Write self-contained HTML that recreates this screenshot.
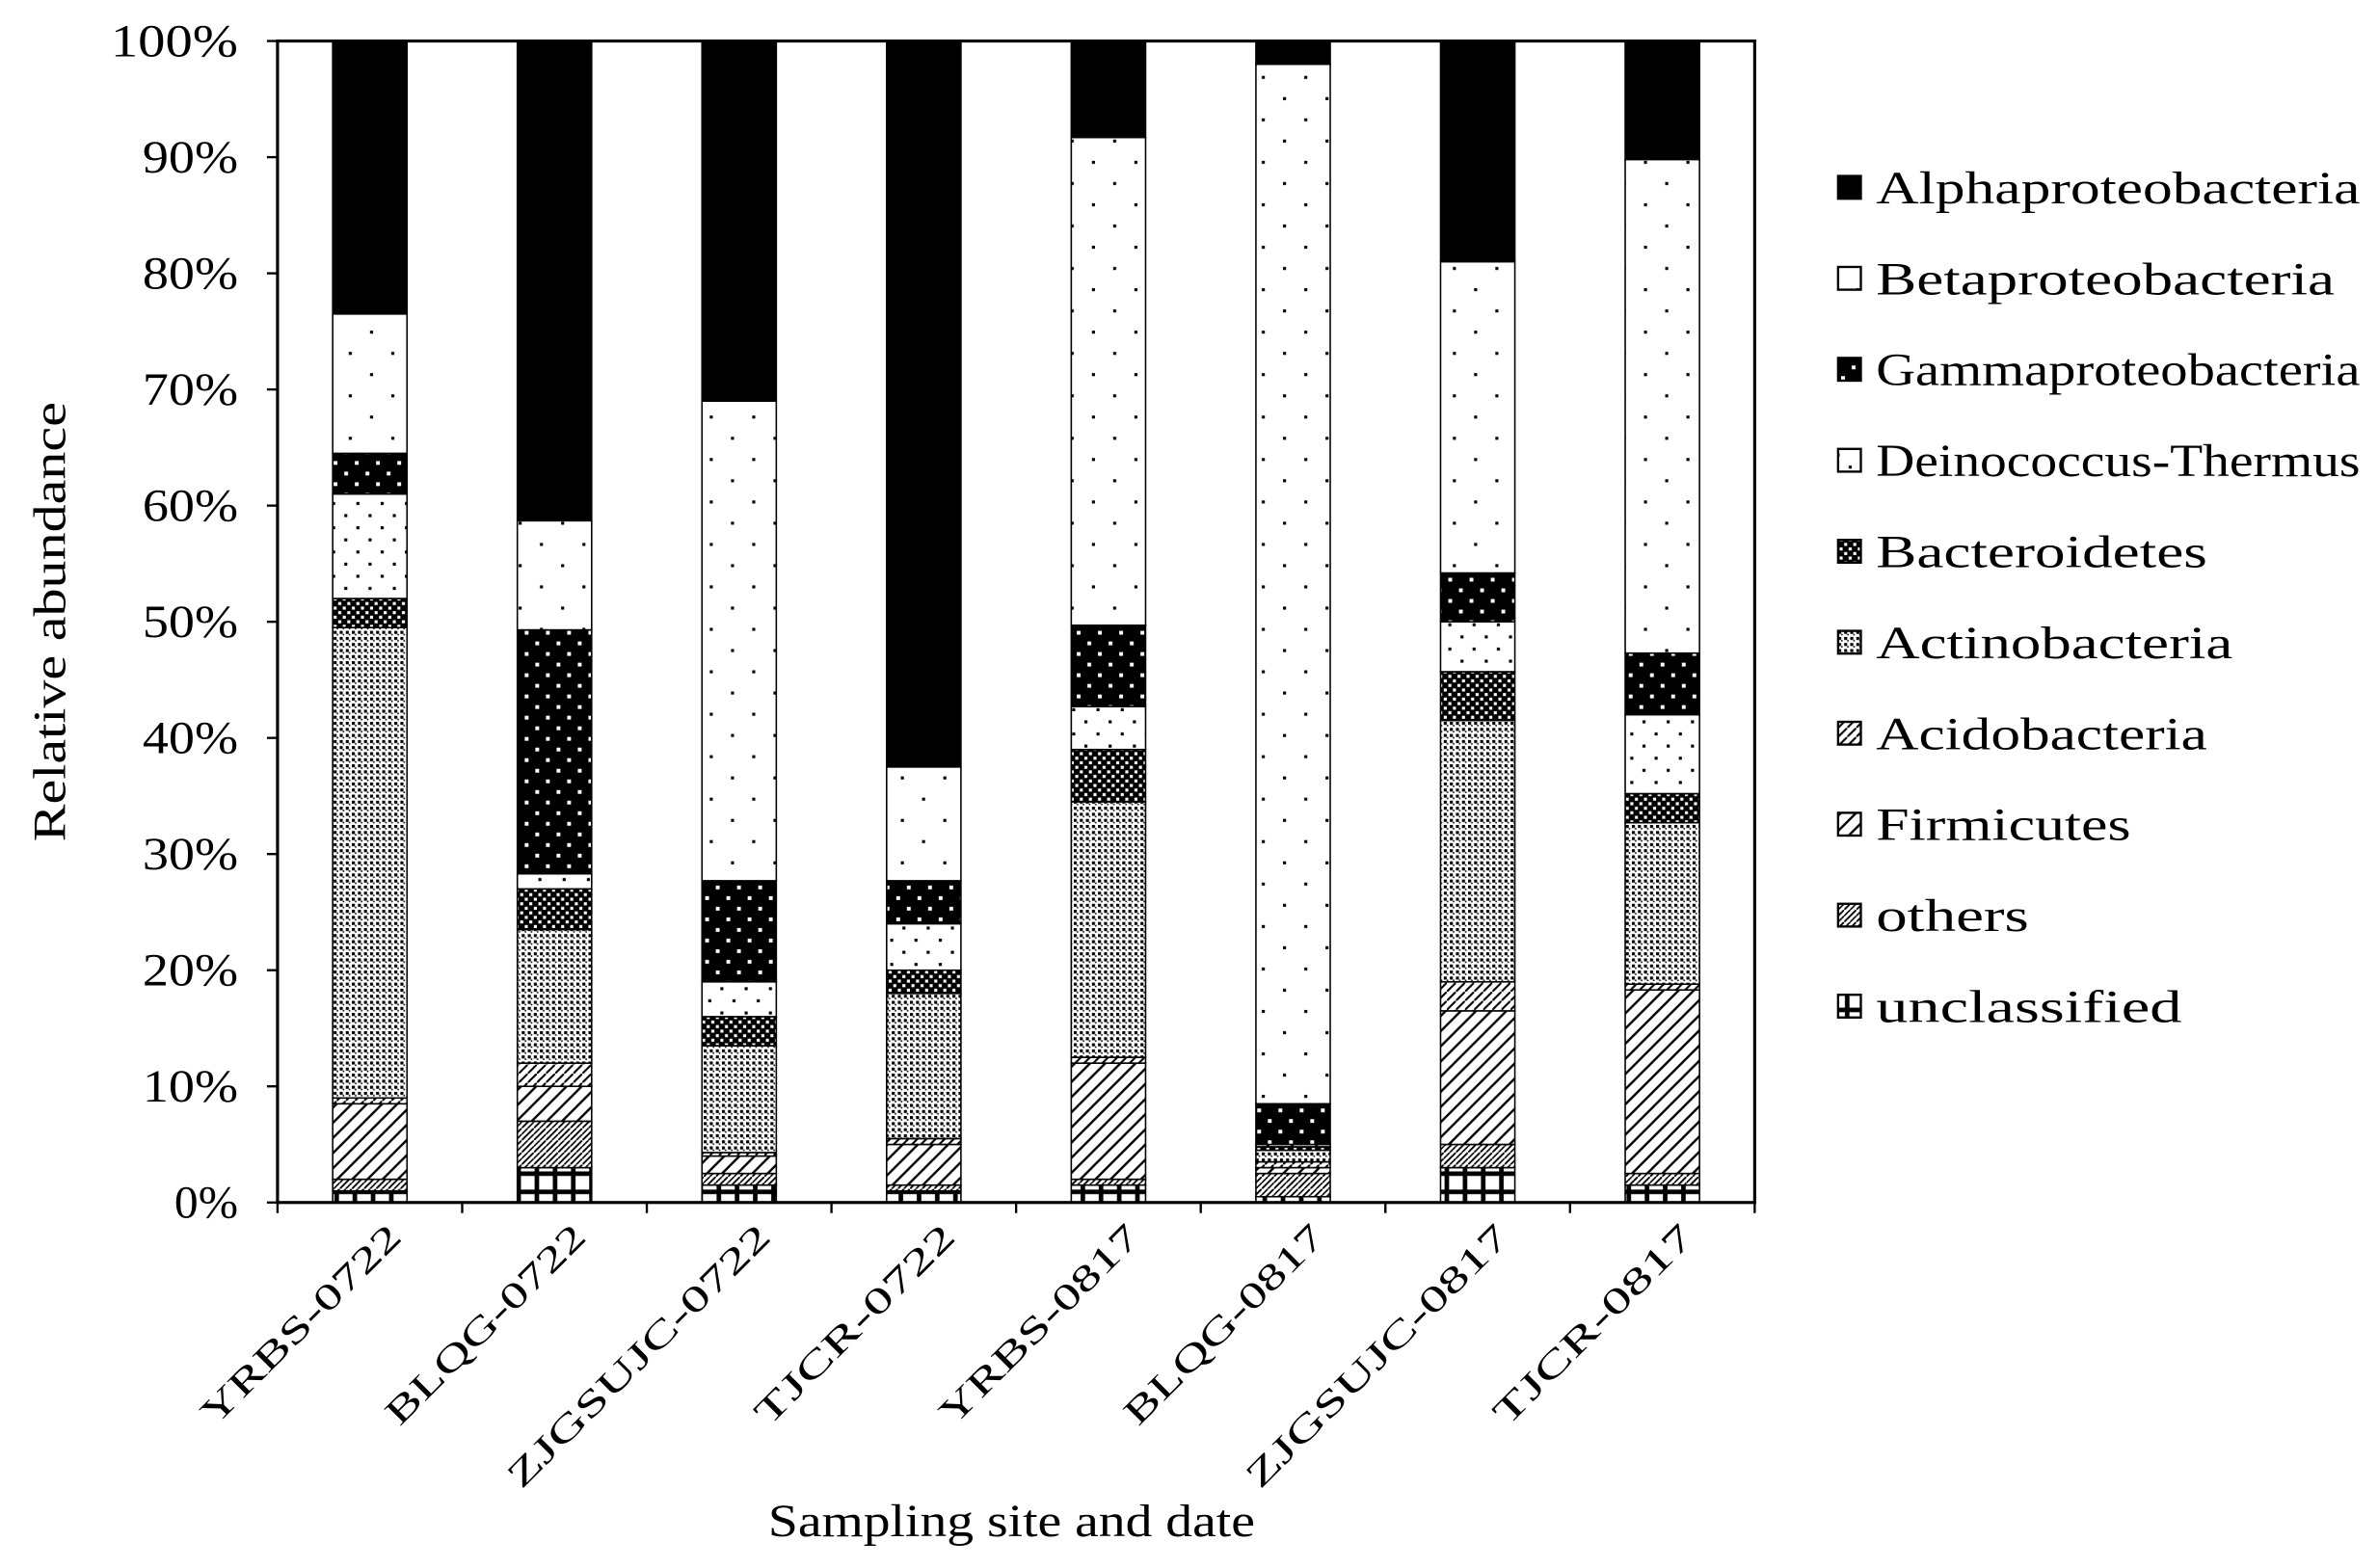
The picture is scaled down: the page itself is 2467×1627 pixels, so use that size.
<!DOCTYPE html>
<html><head><meta charset="utf-8"><style>html,body{margin:0;padding:0;background:#fff}svg{display:block}text{font-family:"Liberation Serif",serif;fill:#000}</style></head>
<body>
<svg id="chart" width="2467" height="1627" viewBox="0 0 1568 1034" xmlns="http://www.w3.org/2000/svg">
<defs>
<pattern id="p0" width="12" height="12" patternUnits="userSpaceOnUse"><rect width="12" height="12" fill="#fff"/><path d="M0,6 H12 M6,0 V12" stroke="#000" stroke-width="3"/></pattern>
<pattern id="p1" width="8" height="8" patternUnits="userSpaceOnUse"><rect width="8" height="8" fill="#fff"/><path d="M0,8 L8,0" stroke="#000" stroke-width="1.2"/><path d="M0,4 L4,0 M4,8 L8,4" stroke="#000" stroke-width="1"/></pattern>
<pattern id="p2" width="10" height="10" patternUnits="userSpaceOnUse"><rect width="10" height="10" fill="#fff"/><path d="M0,10 L10,0 M-2,2 L2,-2 M8,12 L12,8" stroke="#000" stroke-width="1.5"/></pattern>
<pattern id="p3" width="6" height="6" patternUnits="userSpaceOnUse"><rect width="6" height="6" fill="#fff"/><path d="M0,6 L6,0" stroke="#000" stroke-width="1.3"/></pattern>
<pattern id="p4" width="4" height="4" patternUnits="userSpaceOnUse"><rect width="4" height="4" fill="#fff"/><rect x="0" y="0" width="2" height="2" fill="#000"/><rect x="2" y="2" width="1" height="1" fill="#000"/></pattern>
<pattern id="p5" width="6" height="6" patternUnits="userSpaceOnUse"><rect width="6" height="6" fill="#000"/><rect x="1" y="1" width="2" height="2" fill="#fff"/><rect x="4" y="4" width="2" height="2" fill="#fff"/></pattern>
<pattern id="p6" width="16" height="16" patternUnits="userSpaceOnUse"><rect width="16" height="16" fill="#fff"/><rect x="3" y="3" width="2" height="2" fill="#000"/><rect x="11" y="11" width="2" height="2" fill="#000"/></pattern>
<pattern id="p7" width="14" height="14" patternUnits="userSpaceOnUse"><rect width="14" height="14" fill="#000"/><rect x="3" y="3" width="2.5" height="2.5" fill="#fff"/><rect x="10" y="10" width="2.5" height="2.5" fill="#fff"/></pattern>
<pattern id="p8" width="28" height="28" patternUnits="userSpaceOnUse"><rect width="28" height="28" fill="#fff"/><rect x="6" y="8" width="2" height="2" fill="#000"/><rect x="20" y="22" width="2" height="2" fill="#000"/></pattern>
</defs>
<g id="plot"></g>
</svg>
<script>
const categories=["YRBS-0722","BLQG-0722","ZJGSUJC-0722","TJCR-0722","YRBS-0817","BLQG-0817","ZJGSUJC-0817","TJCR-0817"];
const seriesNames=["unclassified","others","Firmicutes","Acidobacteria","Actinobacteria","Bacteroidetes","Deinococcus-Thermus","Gammaproteobacteria","Betaproteobacteria","Alphaproteobacteria"];
const unclassified=[1,3,1.5,1,1.5,0.5,3,1.5];
const others=[1,4,1,0.5,0.5,2,2,1];
const firmicutes=[6.5,3,1.5,3.5,10,0.5,11.5,15.8];
const acidobacteria=[0.5,2,0.3,0.5,0.5,0.5,2.5,0.5];
const actinobacteria=[40.5,11.5,9.2,12.5,22,1,22.5,13.9];
const bacteroidetes=[2.5,3.5,2.5,2,4.5,0.3,4.2,2.5];
const deinococcus=[9,1.3,3,4,3.7,0.2,4.3,6.8];
const gamma=[3.5,21,8.7,3.7,7,3.5,4.2,5.3];
const beta=[12,9.4,41.3,9.8,42,89.5,26.8,42.5];
const alpha=[23.5,41.3,31,62.5,8.3,2,19,10.2];
const yTicks=["0%","10%","20%","30%","40%","50%","60%","70%","80%","90%","100%"];
const series=[unclassified,others,firmicutes,acidobacteria,actinobacteria,bacteroidetes,deinococcus,gamma,beta,alpha];
const fills=["p0","p1","p2","p3","p4","p5","p6","p7","p8","black"];
const legendFills=fills.slice().reverse();
const legendNames=seriesNames.slice().reverse();

const NS="http://www.w3.org/2000/svg";
const g=document.getElementById("plot");
const L=183,R=1157,T=27,B=793;
const bw=(R-L)/categories.length, barW=49;
const y=v=>B-(v/100)*(B-T);
const xc=i=>L+bw*(i+0.5);
function mk(tag,attrs,parent){const e=document.createElementNS(NS,tag);for(const k in attrs)e.setAttribute(k,attrs[k]);(parent||g).appendChild(e);return e;}
const fillOf=f=>f==="black"?"#000":"url(#"+f+")";

categories.forEach((c,i)=>{
  let cum=0;
  series.forEach((s,k)=>{
    const v=s[i];
    const r=mk("rect",{x:xc(i)-barW/2,y:y(cum+v),width:barW,height:y(cum)-y(cum+v),fill:fillOf(fills[k]),stroke:"#000","stroke-width":1});
    
    
    cum+=v;
  });
  const t=mk("text",{x:0,y:0,"font-size":24,"text-anchor":"end",textLength:c.length*19.5,lengthAdjust:"spacingAndGlyphs",transform:`translate(${xc(i)+22},${B+24}) rotate(-45)`});
  t.textContent=c;
  
  
});
const frame=mk("rect",{x:L,y:T,width:R-L,height:B-T,fill:"none",stroke:"#000","stroke-width":2});


yTicks.forEach((lab,i)=>{
  const yy=y(i*10);
  mk("line",{x1:L-7,x2:L,y1:yy,y2:yy,stroke:"#000","stroke-width":1.5});
  const t=mk("text",{x:157,y:yy+10,"font-size":30,"text-anchor":"end",textLength:lab.length*21,lengthAdjust:"spacingAndGlyphs"});
  t.textContent=lab;
  
  
});
for(let i=0;i<=categories.length;i++){mk("line",{x1:L+bw*i,x2:L+bw*i,y1:B,y2:B+7,stroke:"#000","stroke-width":1.5});}
const yt=mk("text",{x:0,y:0,"font-size":30,"text-anchor":"middle",textLength:290,lengthAdjust:"spacingAndGlyphs",transform:"translate(43,410) rotate(-90)"});
yt.textContent="Relative abundance";


const xt=mk("text",{x:667,y:1013,"font-size":30,"text-anchor":"middle",textLength:321,lengthAdjust:"spacingAndGlyphs"});
xt.textContent="Sampling site and date";


legendNames.forEach((n,i)=>{
  const yy=124+i*60;
  const lg=mk("g",{});
  
  
  mk("rect",{x:1212,y:yy-8,width:15,height:15,fill:fillOf(legendFills[i]),stroke:"#000","stroke-width":1.5},lg);
  const t=mk("text",{x:1237,y:yy+10,"font-size":30,textLength:n.length*16.8,lengthAdjust:"spacingAndGlyphs"},lg);
  t.textContent=n;
});
</script>
</body></html>
